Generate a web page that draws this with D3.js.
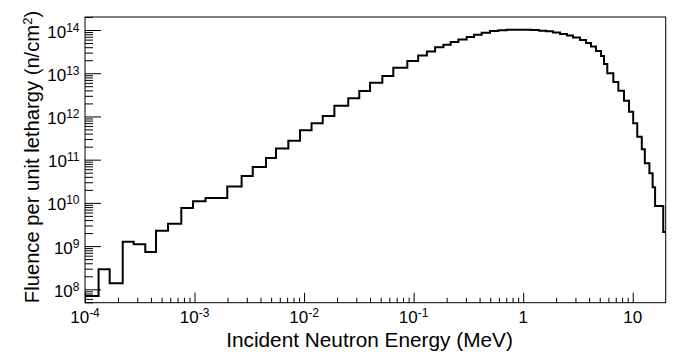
<!DOCTYPE html>
<html>
<head>
<meta charset="utf-8">
<script src="https://cdn.jsdelivr.net/npm/d3@7"></script>
<style>
  html, body { margin: 0; padding: 0; background: #fff; }
  svg { display: block; font-family: 'Liberation Sans', Arial, Helvetica, sans-serif; }
</style>
</head>
<body>
<svg id="chart" width="683" height="354"></svg>
<script>
'use strict';

// bin edges (MeV) of the fluence histogram
var binEdges = [
  1e-4, 1.33e-4, 1.68e-4, 2.21e-4, 2.78e-4, 3.55e-4, 4.45e-4, 5.73e-4, 7.57e-4, 9.68e-4,
  1.26e-3, 1.99e-3, 2.69e-3, 3.40e-3, 4.49e-3, 5.54e-3, 7.18e-3, 9.18e-3,
  1.17e-2, 1.48e-2, 1.89e-2, 2.53e-2, 3.19e-2, 4.00e-2, 5.18e-2, 6.52e-2, 8.76e-2,
  0.110, 0.132, 0.157, 0.187, 0.218, 0.256, 0.305, 0.356, 0.418, 0.498, 0.593, 0.707, 0.842,
  1.00, 1.18, 1.40, 1.62, 1.87, 2.17, 2.51, 2.85, 3.30, 3.75, 4.16, 4.62, 5.14, 5.47, 5.86,
  6.65, 7.39, 8.33, 9.25, 10.1, 11.0, 12.1, 12.9, 14.2, 15.2, 16.0, 19.0, 20.0
]

// fluence per unit lethargy in each bin (n/cm^2)
var fluence = [
  7.0e7, 2.9e8, 1.38e8, 1.26e9, 1.10e9, 7.3e8, 2.27e9, 3.3e9, 7.6e9, 1.09e10,
  1.30e10, 2.39e10, 4.18e10, 6.76e10, 1.09e11, 1.81e11, 2.74e11, 4.78e11,
  6.93e11, 1.02e12, 1.77e12, 2.63e12, 3.87e12, 6.03e12, 8.61e12, 1.34e13, 1.92e13,
  2.57e13, 3.18e13, 3.97e13, 4.56e13, 5.27e13, 6.02e13, 6.88e13, 7.78e13, 8.65e13, 9.47e13, 9.88e13, 1.01e14,
  1.015e14, 1.01e14, 9.94e13, 9.67e13, 9.32e13, 8.74e13, 8.07e13, 7.45e13, 6.70e13, 5.86e13, 5.00e13, 4.15e13, 3.26e13, 2.50e13, 1.63e13,
  9.95e12, 6.26e12, 3.94e12, 2.31e12, 1.29e12, 6.93e11, 3.40e11, 1.74e11, 8.23e10, 4.83e10, 2.29e10, 8.46e9, 2.12e9
]

var xDomain = [1e-4, 20]
var yDomain = [4.9e7, 2.0e14]

var xMajor = [1e-4, 1e-3, 1e-2, 1e-1, 1, 10]
var xLabels = [['10', '-4'], ['10', '-3'], ['10', '-2'], ['10', '-1'], ['1', ''], ['10', '']]
var yMajor = [1e8, 1e9, 1e10, 1e11, 1e12, 1e13, 1e14]
var yLabels = [['10', '8'], ['10', '9'], ['10', '10'], ['10', '11'], ['10', '12'], ['10', '13'], ['10', '14']]

var frame = { l: 85, t: 17, r: 665.7, b: 302.7 }

var svg = d3.select('#chart')

var x = d3.scaleLog().domain(xDomain).range([frame.l, frame.r])
var y = d3.scaleLog().domain(yDomain).range([frame.b, frame.t])

function isMajor(v) {
  var l = Math.log10(v)
  return Math.abs(l - Math.round(l)) < 1e-9
}
var xMinor = x.ticks().filter(function(v) { return !isMajor(v) && v < xDomain[1] })
var yMinor = y.ticks().filter(function(v) { return !isMajor(v) })

// axes, ticks point into the frame
svg.append('g')
  .attr('transform', 'translate(0,' + frame.b + ')')
  .call(d3.axisBottom(x).tickValues(xMinor).tickSize(-5).tickFormat(''))
svg.append('g')
  .attr('transform', 'translate(0,' + frame.b + ')')
  .call(d3.axisBottom(x).tickValues(xMajor).tickSize(-10).tickFormat(''))
svg.append('g')
  .attr('transform', 'translate(' + frame.l + ',0)')
  .call(d3.axisLeft(y).tickValues(yMinor).tickSize(-8).tickFormat(''))
svg.append('g')
  .attr('transform', 'translate(' + frame.l + ',0)')
  .call(d3.axisLeft(y).tickValues(yMajor).tickSize(-16).tickFormat(''))
svg.selectAll('.domain').remove()
svg.selectAll('.tick line').attr('stroke', '#000').attr('stroke-width', 1)

// frame
svg.append('rect')
  .attr('x', frame.l).attr('y', frame.t)
  .attr('width', frame.r - frame.l).attr('height', frame.b - frame.t)
  .attr('fill', 'none').attr('stroke', '#000').attr('stroke-width', 1)

// histogram outline
var pts = fluence.map(function(v, i) { return [binEdges[i], v] })
pts.push([binEdges[binEdges.length - 1], fluence[fluence.length - 1]])

var line = d3.line()
  .x(function(d) { return x(d[0]) })
  .y(function(d) { return y(d[1]) })
  .curve(d3.curveStepAfter)

svg.append('path')
  .attr('d', line(pts))
  .attr('fill', 'none')
  .attr('stroke', '#000')
  .attr('stroke-width', 2)
  .attr('stroke-linejoin', 'miter')

// tick labels with superscript exponents
function label(t, d) {
  t.append('tspan').text(d[0])
  if (d[1]) t.append('tspan').attr('dy', -6).attr('font-size', 12).text(d[1])
}

svg.selectAll('.xlab').data(xMajor).enter().append('text')
  .attr('class', 'xlab')
  .attr('x', function(d) { return x(d) })
  .attr('y', 322.5)
  .attr('text-anchor', 'middle')
  .attr('font-size', 17)
  .each(function(d, i) { label(d3.select(this), xLabels[i]) })

svg.selectAll('.ylab').data(yMajor).enter().append('text')
  .attr('class', 'ylab')
  .attr('x', 79.5)
  .attr('y', function(d) { return y(d) + 7.5 })
  .attr('text-anchor', 'end')
  .attr('font-size', 17)
  .each(function(d, i) { label(d3.select(this), yLabels[i]) })

// axis titles
svg.append('text')
  .attr('x', 369.5).attr('y', 346.5)
  .attr('text-anchor', 'middle')
  .attr('font-size', 20.8)
  .text('Incident Neutron Energy (MeV)')

var yt = svg.append('text')
  .attr('transform', 'translate(39,157) rotate(-90)')
  .attr('text-anchor', 'middle')
  .attr('font-size', 20.2)
yt.append('tspan').text('Fluence per unit lethargy (n/cm')
yt.append('tspan').attr('dy', -7).attr('font-size', 13).text('2')
yt.append('tspan').attr('dy', 7).text(')')
</script>
</body>
</html>
